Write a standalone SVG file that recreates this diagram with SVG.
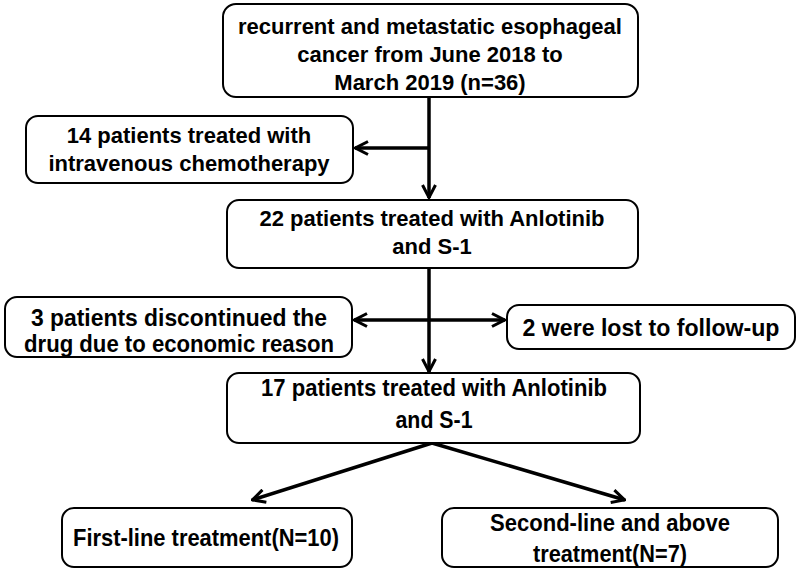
<svg xmlns="http://www.w3.org/2000/svg" width="800" height="576" viewBox="0 0 800 576">
<defs>
<style>
.box{fill:#fff;stroke:#000;stroke-width:2}
.t{font-family:"Liberation Sans",Arial,sans-serif;font-weight:bold;font-size:22px;fill:#000;text-anchor:middle}
.n{font-family:"Liberation Sans",Arial,sans-serif;font-weight:bold;font-size:24px;fill:#000;text-anchor:middle}
.c{fill:none;stroke:#000;stroke-width:3.5}
</style>
<marker id="ah" viewBox="0 0 16 16" refX="15" refY="8" markerWidth="16" markerHeight="16" markerUnits="userSpaceOnUse" orient="auto">
<path d="M2,1.5 L14.5,8 L2,14.5" fill="none" stroke="#000" stroke-width="3"/>
</marker>
</defs>
<rect width="800" height="576" fill="#fff"/>
<g id="connectors">
<line class="c" x1="429" y1="97" x2="429" y2="198" marker-end="url(#ah)"/>
<line class="c" x1="429" y1="148" x2="355" y2="148" marker-end="url(#ah)"/>
<line class="c" x1="429" y1="268" x2="429" y2="372" marker-end="url(#ah)"/>
<line class="c" x1="429" y1="320" x2="354" y2="320" marker-end="url(#ah)"/>
<line class="c" x1="429" y1="320" x2="505" y2="320" marker-end="url(#ah)"/>
<line class="c" x1="432" y1="443" x2="252" y2="500" marker-end="url(#ah)"/>
<line class="c" x1="432" y1="443" x2="625" y2="500" marker-end="url(#ah)"/>
</g>
<g id="n1">
<rect class="box" x="223" y="4" width="415" height="93" rx="13"/>
<text class="t" x="430" y="34">recurrent and metastatic esophageal</text>
<text class="t" x="430" y="62">cancer from June 2018 to</text>
<text class="t" x="430" y="90">March 2019 (n=36)</text>
</g>
<g id="n2">
<rect class="box" x="26" y="116" width="327" height="67" rx="12"/>
<text class="t" x="189" y="143">14 patients treated with</text>
<text class="t" x="189" y="171">intravenous chemotherapy</text>
</g>
<g id="n3">
<rect class="box" x="227" y="200" width="411" height="68" rx="12"/>
<text class="t" x="432" y="226">22 patients treated with Anlotinib</text>
<text class="t" x="432" y="254">and S-1</text>
</g>
<g id="n4">
<rect class="box" x="5" y="297" width="347" height="60" rx="12"/>
<text class="n" x="179" y="326" textLength="296" lengthAdjust="spacingAndGlyphs">3 patients discontinued the</text>
<text class="n" x="179" y="352" textLength="310" lengthAdjust="spacingAndGlyphs">drug due to economic reason</text>
</g>
<g id="n5">
<rect class="box" x="507" y="305" width="288" height="44" rx="12"/>
<text class="n" x="651" y="336" textLength="257" lengthAdjust="spacingAndGlyphs">2 were lost to follow-up</text>
</g>
<g id="n6">
<rect class="box" x="227" y="373" width="413" height="70" rx="12"/>
<text class="n" x="434" y="396" textLength="346" lengthAdjust="spacingAndGlyphs">17 patients treated with Anlotinib</text>
<text class="n" x="434" y="428" textLength="77" lengthAdjust="spacingAndGlyphs">and S-1</text>
</g>
<g id="n7">
<rect class="box" x="62" y="508" width="290" height="59" rx="12"/>
<text class="n" x="206" y="546" textLength="266" lengthAdjust="spacingAndGlyphs">First-line treatment(N=10)</text>
</g>
<g id="n8">
<rect class="box" x="442" y="508" width="336" height="59" rx="12"/>
<text class="n" x="610" y="531" textLength="240" lengthAdjust="spacingAndGlyphs">Second-line and above</text>
<text class="n" x="610" y="562" textLength="154" lengthAdjust="spacingAndGlyphs">treatment(N=7)</text>
</g>
</svg>
